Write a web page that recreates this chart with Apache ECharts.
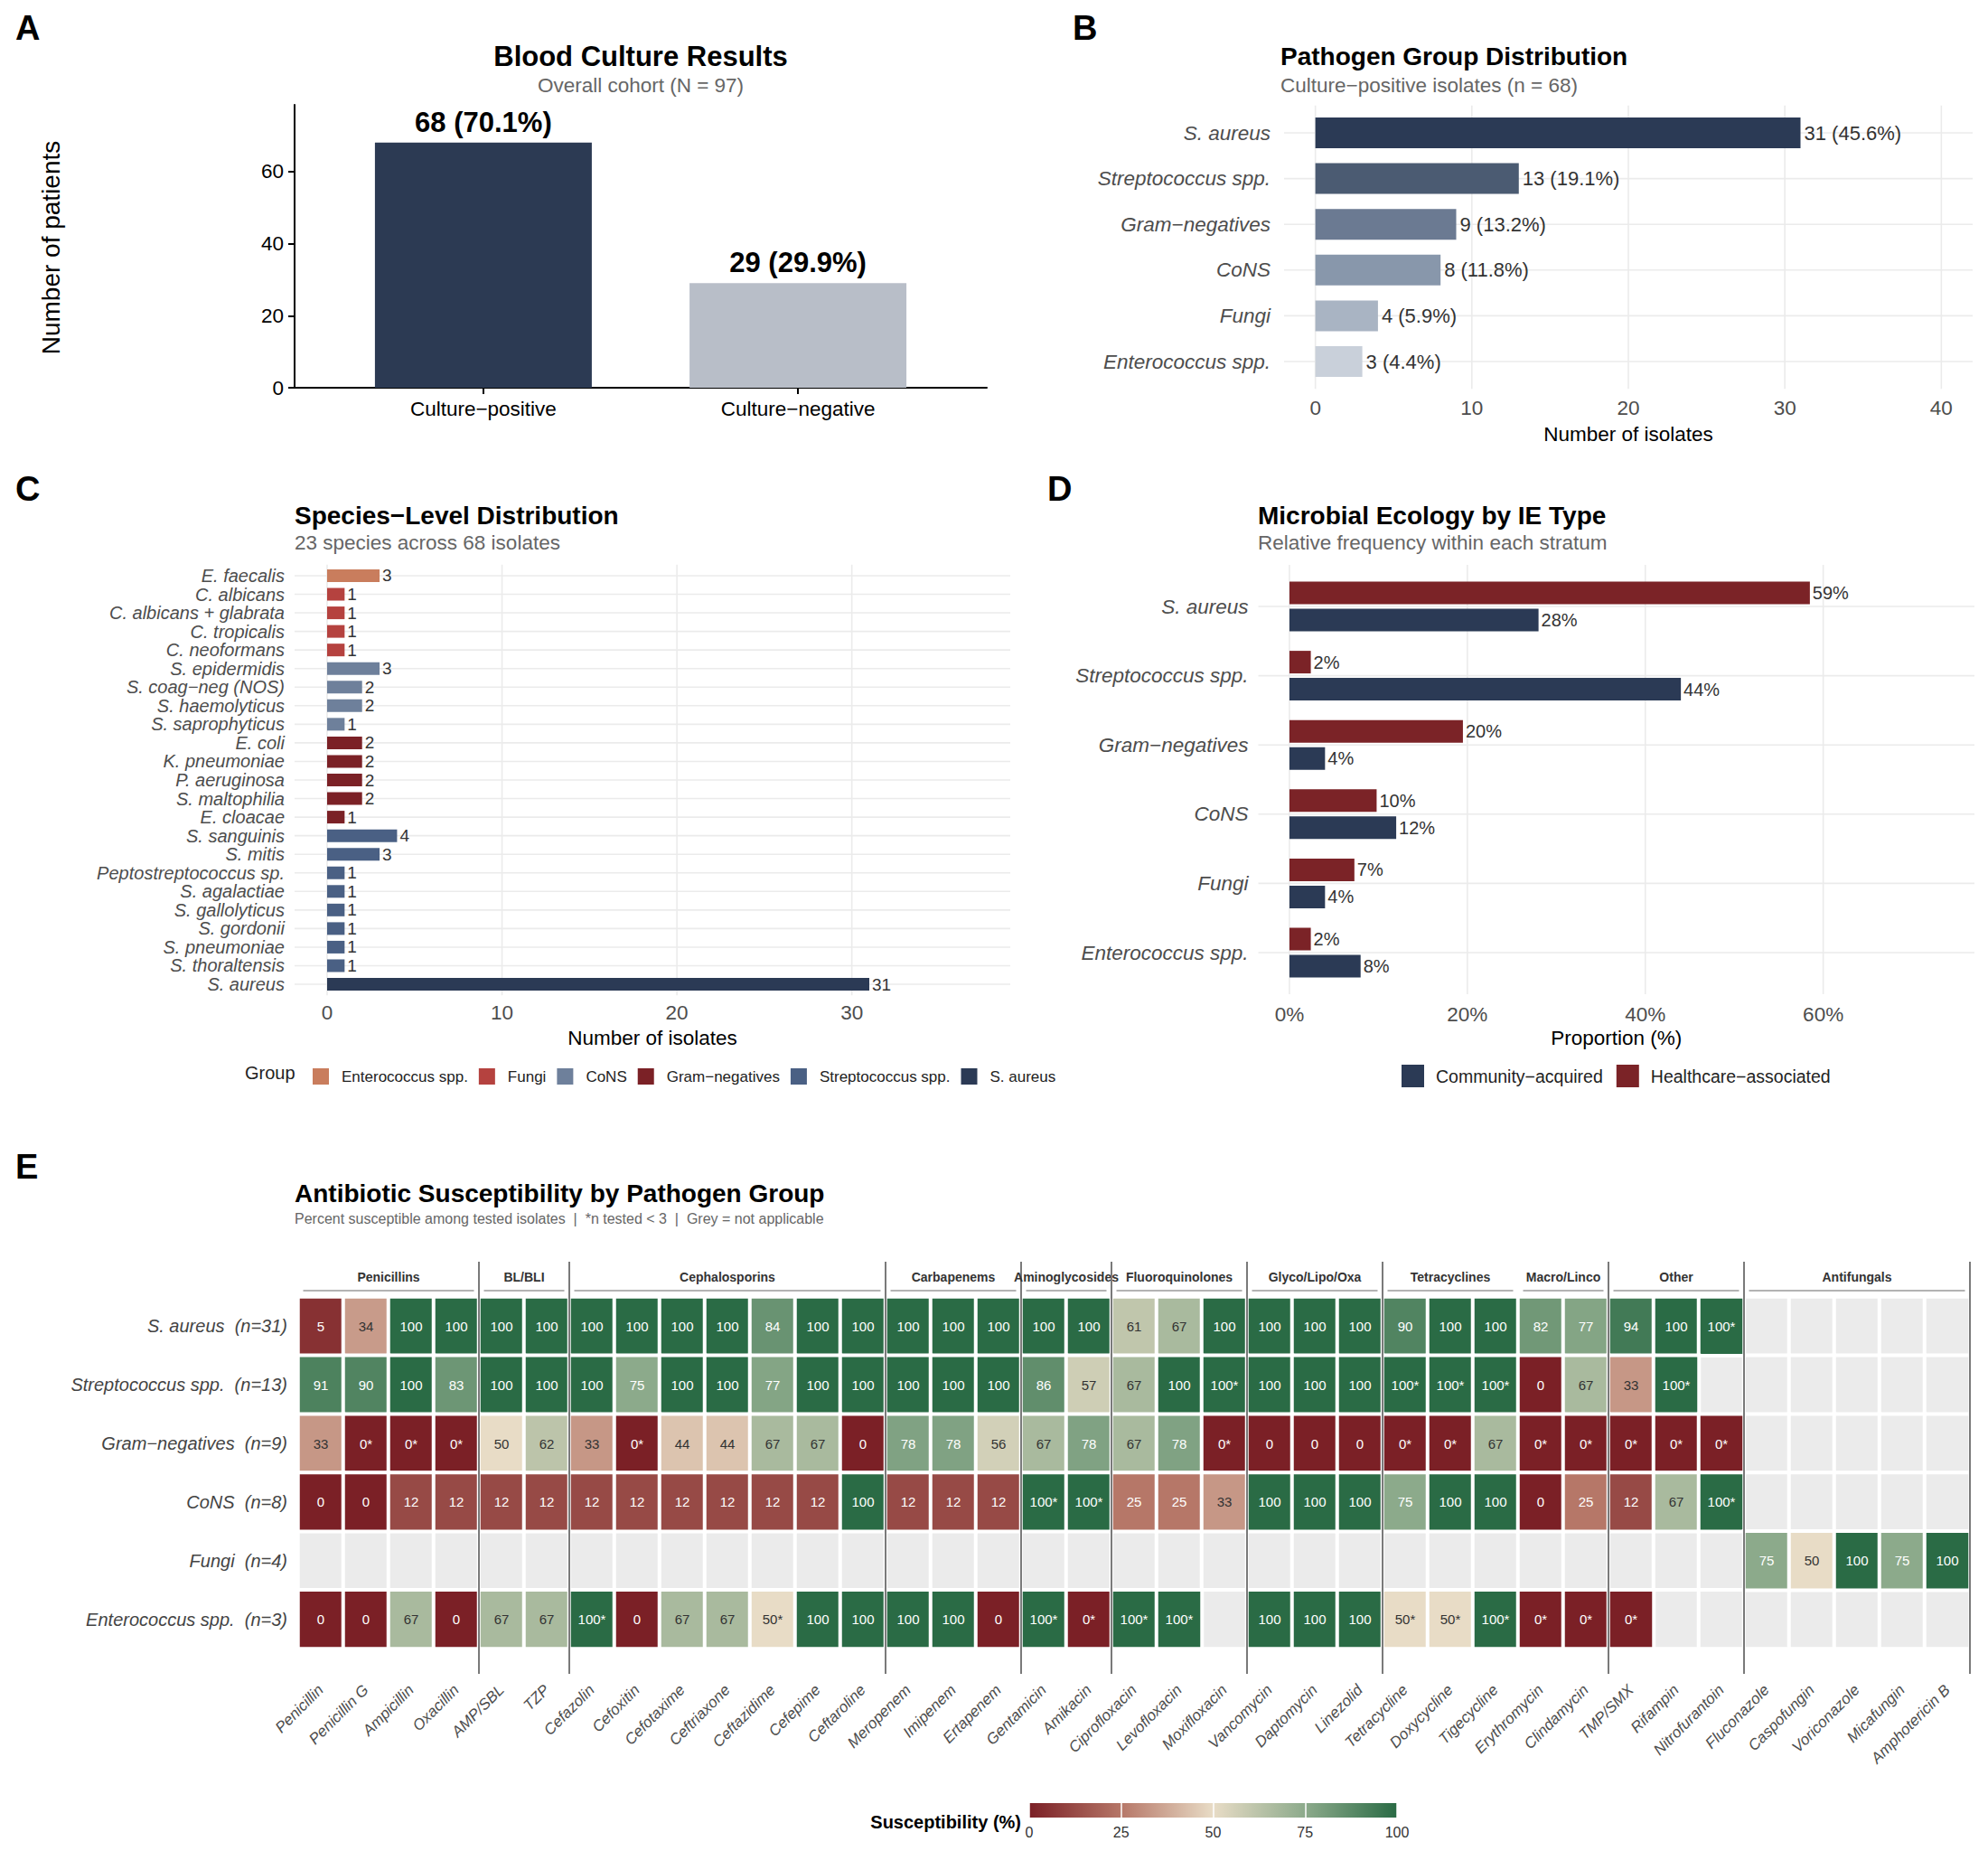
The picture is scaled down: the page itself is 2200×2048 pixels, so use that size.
<!DOCTYPE html>
<html>
<head>
<meta charset="utf-8">
<script src="https://cdn.jsdelivr.net/npm/echarts@6.0.0/dist/echarts.min.js"></script>
<style>
html,body{margin:0;padding:0;background:#ffffff;}
#chart{width:2200px;height:2048px;}
</style>
</head>
<body>
<div id="chart"></div>
<script>
// ================= DATA =================
// Panel A
const cultureCategories = ['Culture−positive', 'Culture−negative'];
const cultureCounts = [68, 29];
const cohortTotal = 97;

// Panel B
const groupNames = ['S. aureus', 'Streptococcus spp.', 'Gram−negatives', 'CoNS', 'Fungi', 'Enterococcus spp.'];
const groupCounts = [31, 13, 9, 8, 4, 3];
const isolateTotal = 68;

// Panel C
const speciesNames = ['E. faecalis', 'C. albicans', 'C. albicans + glabrata', 'C. tropicalis', 'C. neoformans',
  'S. epidermidis', 'S. coag−neg (NOS)', 'S. haemolyticus', 'S. saprophyticus',
  'E. coli', 'K. pneumoniae', 'P. aeruginosa', 'S. maltophilia', 'E. cloacae',
  'S. sanguinis', 'S. mitis', 'Peptostreptococcus sp.', 'S. agalactiae', 'S. gallolyticus', 'S. gordonii',
  'S. pneumoniae', 'S. thoraltensis', 'S. aureus'];
const speciesCounts = [3, 1, 1, 1, 1, 3, 2, 2, 1, 2, 2, 2, 2, 1, 4, 3, 1, 1, 1, 1, 1, 1, 31];
const speciesGroup = ['Enterococcus spp.', 'Fungi', 'Fungi', 'Fungi', 'Fungi',
  'CoNS', 'CoNS', 'CoNS', 'CoNS',
  'Gram−negatives', 'Gram−negatives', 'Gram−negatives', 'Gram−negatives', 'Gram−negatives',
  'Streptococcus spp.', 'Streptococcus spp.', 'Streptococcus spp.', 'Streptococcus spp.', 'Streptococcus spp.',
  'Streptococcus spp.', 'Streptococcus spp.', 'Streptococcus spp.', 'S. aureus'];
const speciesLegendOrder = ['Enterococcus spp.', 'Fungi', 'CoNS', 'Gram−negatives', 'Streptococcus spp.', 'S. aureus'];

// Panel D
const ecologyGroups = ['S. aureus', 'Streptococcus spp.', 'Gram−negatives', 'CoNS', 'Fungi', 'Enterococcus spp.'];
const healthcarePct = [58.5, 2.4, 19.5, 9.8, 7.3, 2.4];
const communityPct = [28, 44, 4, 12, 4, 8];
const ecologyNames = ['Community−acquired', 'Healthcare−associated'];

// Panel E
const antibiotics = ['Penicillin', 'Penicillin G', 'Ampicillin', 'Oxacillin', 'AMP/SBL', 'TZP',
  'Cefazolin', 'Cefoxitin', 'Cefotaxime', 'Ceftriaxone', 'Ceftazidime', 'Cefepime', 'Ceftaroline',
  'Meropenem', 'Imipenem', 'Ertapenem', 'Gentamicin', 'Amikacin',
  'Ciprofloxacin', 'Levofloxacin', 'Moxifloxacin', 'Vancomycin', 'Daptomycin', 'Linezolid',
  'Tetracycline', 'Doxycycline', 'Tigecycline', 'Erythromycin', 'Clindamycin',
  'TMP/SMX', 'Rifampin', 'Nitrofurantoin',
  'Fluconazole', 'Caspofungin', 'Voriconazole', 'Micafungin', 'Amphotericin B'];
const antibioticClasses = ['Penicillins', 'BL/BLI', 'Cephalosporins', 'Carbapenems', 'Aminoglycosides',
  'Fluoroquinolones', 'Glyco/Lipo/Oxa', 'Tetracyclines', 'Macro/Linco', 'Other', 'Antifungals'];
const classSizes = [4, 2, 7, 3, 2, 3, 3, 3, 2, 3, 5];
const classDivider = [1, 1, 1, 1, 1, 1, 1, 0, 1, 1, 1];
const astRowLabels = ['S. aureus  (n=31)', 'Streptococcus spp.  (n=13)', 'Gram−negatives  (n=9)',
  'CoNS  (n=8)', 'Fungi  (n=4)', 'Enterococcus spp.  (n=3)'];
// '*' = n tested < 3 ; null = not applicable
const astSaureus = ['5','34','100','100', '100','100', '100','100','100','100','84','100','100',
  '100','100','100', '100','100', '61','67','100', '100','100','100', '90','100','100', '82','77',
  '94','100','100*', null,null,null,null,null];
const astStrep = ['91','90','100','83', '100','100', '100','75','100','100','77','100','100',
  '100','100','100', '86','57', '67','100','100*', '100','100','100', '100*','100*','100*', '0','67',
  '33','100*',null, null,null,null,null,null];
const astGramNeg = ['33','0*','0*','0*', '50','62', '33','0*','44','44','67','67','0',
  '78','78','56', '67','78', '67','78','0*', '0','0','0', '0*','0*','67', '0*','0*',
  '0*','0*','0*', null,null,null,null,null];
const astCoNS = ['0','0','12','12', '12','12', '12','12','12','12','12','12','100',
  '12','12','12', '100*','100*', '25','25','33', '100','100','100', '75','100','100', '0','25',
  '12','67','100*', null,null,null,null,null];
const astFungi = [null,null,null,null, null,null, null,null,null,null,null,null,null,
  null,null,null, null,null, null,null,null, null,null,null, null,null,null, null,null,
  null,null,null, '75','50','100','75','100'];
const astEntero = ['0','0','67','0', '67','67', '100*','0','67','67','50*','100','100',
  '100','100','0', '100*','0*', '100*','100*',null, '100','100','100', '50*','50*','100*', '0*','0*',
  '0*',null,null, null,null,null,null,null];
const astValues = [astSaureus, astStrep, astGramNeg, astCoNS, astFungi, astEntero];
const colorbarTicks = [0, 25, 50, 75, 100];

// axis tick values
const ticksB = [0, 10, 20, 30, 40];
const ticksC = [0, 10, 20, 30];
const ticksD = [0, 20, 40, 60];
const ticksA = [0, 20, 40, 60];

// ================= STYLE =================
const FONT = '"Liberation Sans", Arial, Helvetica, sans-serif';
const cultureColors = ['#2c3a53', '#b8bec8'];
const groupShades = ['#2b3a55', '#4b5b72', '#6b7a92', '#8897ab', '#a9b4c3', '#c9d0da'];
const speciesPalette = {
  'Enterococcus spp.': '#c97d5d', 'Fungi': '#b5423f', 'CoNS': '#6e809b',
  'Gram−negatives': '#7b2126', 'Streptococcus spp.': '#4a6084', 'S. aureus': '#2b3a55'
};
const ecologyColors = ['#2b3a55', '#7b2327'];
const heatStops = ['#7b2026', '#b67768', '#e8dcc6', '#8caa8b', '#2a6b45'];
const naColor = '#ebebeb';
const gridColor = '#ebebeb';

const G = {
  A: {left: 326, top: 116, width: 766, height: 313},
  B: {left: 1421, top: 121.7, width: 762, height: 303.6},
  C: {left: 326, top: 626.7, width: 792, height: 472.6},
  D: {left: 1392.5, top: 632.7, width: 792.5, height: 459.6},
  E: {left: 330, top: 1435, width: 1850, height: 389},
  K: {left: 1139, top: 1995, width: 407, height: 16}
};

// ================= HELPERS =================
function hLines(xi, yi, cats) {
  return {
    type: 'custom', xAxisIndex: xi, yAxisIndex: yi, silent: true, z: 1, clip: false,
    data: cats.map(c => [0, c]),
    renderItem: (params, api) => {
      const y = api.coord([0, api.value(1)])[1];
      const cs = params.coordSys;
      return {type: 'line', shape: {x1: cs.x, y1: y, x2: cs.x + cs.width, y2: y},
        style: {stroke: gridColor, lineWidth: 1.6}};
    }
  };
}
function vLines(xi, yi, ticks, nCats) {
  return {
    type: 'custom', xAxisIndex: xi, yAxisIndex: yi, silent: true, z: 1, clip: false,
    data: ticks.map(t => [t, 0]),
    renderItem: (params, api) => {
      const x = api.coord([api.value(0), 0])[0];
      const cs = params.coordSys;
      const ext = cs.height / nCats * 0.1;
      return {type: 'line', shape: {x1: x, y1: cs.y - ext, x2: x, y2: cs.y + cs.height + ext},
        style: {stroke: gridColor, lineWidth: 1.6}};
    }
  };
}
function txt(text, x, y, size, o) {
  o = o || {};
  const align = o.align || 'left';
  return {
    type: 'text', x: x, y: y, rotation: o.rotation || 0, silent: true, z: 10,
    style: {
      text: text, fontFamily: FONT, fontSize: size, fontWeight: o.weight || 'normal',
      fill: o.color || '#000', align: align, textAlign: align,
      verticalAlign: 'middle', textVerticalAlign: 'middle'
    }
  };
}

// ================= BUILD =================
const series = [];

// A
series.push({
  type: 'bar', xAxisIndex: 0, yAxisIndex: 0, barWidth: 240, z: 2,
  data: cultureCounts.map((v, i) => ({value: [i + 1, v], itemStyle: {color: cultureColors[i]}})),
  label: {show: true, position: 'top', distance: 7, fontSize: 31, fontWeight: 'bold', color: '#000',
    fontFamily: FONT,
    formatter: p => p.value[1] + ' (' + (p.value[1] / cohortTotal * 100).toFixed(1) + '%)'}
});

// B
series.push(hLines(1, 1, groupNames));
series.push(vLines(1, 1, ticksB, groupNames.length));
series.push({
  type: 'bar', xAxisIndex: 1, yAxisIndex: 1, barWidth: 34, z: 2,
  data: groupCounts.map((v, i) => ({value: v, itemStyle: {color: groupShades[i]}})),
  label: {show: true, position: 'right', distance: 4, fontSize: 22, color: '#333', fontFamily: FONT,
    formatter: p => p.value + ' (' + (p.value / isolateTotal * 100).toFixed(1) + '%)'}
});

// C
series.push(hLines(2, 2, speciesNames));
series.push(vLines(2, 2, ticksC, speciesNames.length));
speciesLegendOrder.forEach(g => {
  series.push({
    type: 'bar', name: g, xAxisIndex: 2, yAxisIndex: 2, stack: 'species', barWidth: 14, z: 2,
    itemStyle: {color: speciesPalette[g]},
    data: speciesCounts.map((v, i) => speciesGroup[i] === g ? v : '-'),
    label: {show: true, position: 'right', distance: 3, fontSize: 19, color: '#333', fontFamily: FONT}
  });
});

// D
series.push(hLines(3, 3, ecologyGroups));
series.push(vLines(3, 3, ticksD, ecologyGroups.length));
[healthcarePct, communityPct].forEach((arr, k) => {
  const idx = k === 0 ? 1 : 0;
  series.push({
    type: 'bar', name: ecologyNames[idx], xAxisIndex: 3, yAxisIndex: 3, barWidth: 25, barGap: '20%', z: 2,
    itemStyle: {color: ecologyColors[idx]},
    data: arr,
    label: {show: true, position: 'right', distance: 3, fontSize: 20, color: '#333', fontFamily: FONT,
      formatter: p => Math.round(p.value) + '%'}
  });
});

// E heatmap
const heatData = [], naData = [];
astValues.forEach((row, r) => row.forEach((cell, c) => {
  if (cell === null) { naData.push([c, r, 0]); return; }
  const v = parseFloat(cell);
  heatData.push({value: [c, r, v], label: {color: (v >= 30 && v <= 70) ? '#333333' : '#ffffff'}});
}));
const naSeriesIndex = series.length;
series.push({
  type: 'heatmap', xAxisIndex: 4, yAxisIndex: 4, data: naData, z: 2,
  itemStyle: {borderColor: '#ffffff', borderWidth: 4},
  label: {show: false}, emphasis: {disabled: true}
});
const heatSeriesIndex = series.length;
series.push({
  type: 'heatmap', xAxisIndex: 4, yAxisIndex: 4, data: heatData, z: 2,
  itemStyle: {borderColor: '#ffffff', borderWidth: 4},
  label: {show: true, fontSize: 15, fontFamily: FONT,
    formatter: p => astValues[p.value[1]][p.value[0]]},
  emphasis: {disabled: true}
});
// class headers, underlines and dividers
let cursor = 0;
const classSpans = classSizes.map((n, i) => { const s = cursor; cursor += n; return [s, cursor, i]; });
series.push({
  type: 'custom', xAxisIndex: 5, yAxisIndex: 5, silent: true, clip: false, z: 6,
  data: classSpans,
  renderItem: (params, api) => {
    const s = api.value(0), e = api.value(1), k = api.value(2);
    const x0 = api.coord([s, 0])[0], x1 = api.coord([e, 0])[0];
    const cs = params.coordSys;
    const children = [
      {type: 'text', x: (x0 + x1) / 2, y: cs.y - 22,
        style: {text: antibioticClasses[k], fontSize: 14, fontWeight: 'bold', fontFamily: FONT, fill: '#333',
          align: 'center', verticalAlign: 'middle', textAlign: 'center', textVerticalAlign: 'middle'}},
      {type: 'line', shape: {x1: x0 + 5.5, y1: cs.y - 7, x2: x1 - 5.5, y2: cs.y - 7},
        style: {stroke: '#9a9a9a', lineWidth: 1.6}}
    ];
    if (classDivider[k]) {
      children.push({type: 'line', shape: {x1: x1, y1: cs.y - 39, x2: x1, y2: cs.y + cs.height + 28},
        style: {stroke: '#7a7a7a', lineWidth: 2}});
    }
    return {type: 'group', children: children};
  }
});

const option = {
  animation: false,
  backgroundColor: '#ffffff',
  textStyle: {fontFamily: FONT},
  grid: [G.A, G.B, G.C, G.D, G.E, G.K].map(g => Object.assign({containLabel: false}, g)),
  xAxis: [
    // A
    {gridIndex: 0, type: 'value', min: 0.4, max: 2.6,
      axisLine: {show: true, onZero: false, lineStyle: {color: '#000', width: 2}},
      axisTick: {show: true, customValues: [1, 2], length: 7, lineStyle: {color: '#000', width: 2}},
      axisLabel: {customValues: [1, 2], formatter: v => cultureCategories[Math.round(v) - 1],
        fontSize: 22.5, color: '#000', margin: 12},
      splitLine: {show: false}},
    // B
    {gridIndex: 1, type: 'value', min: -2, max: 42, axisLine: {show: false}, axisTick: {show: false},
      splitLine: {show: false},
      axisLabel: {customValues: ticksB, fontSize: 22.5, color: '#4d4d4d', margin: 15}},
    // C
    {gridIndex: 2, type: 'value', min: -1.86, max: 39.06, axisLine: {show: false}, axisTick: {show: false},
      splitLine: {show: false},
      axisLabel: {customValues: ticksC, fontSize: 22.5, color: '#4d4d4d', margin: 10}},
    // D
    {gridIndex: 3, type: 'value', min: -3.5, max: 77, axisLine: {show: false}, axisTick: {show: false},
      splitLine: {show: false},
      axisLabel: {customValues: ticksD, formatter: '{value}%', fontSize: 22.5, color: '#4d4d4d', margin: 19}},
    // E heatmap
    {gridIndex: 4, type: 'category', data: antibiotics, axisLine: {show: false}, axisTick: {show: false},
      splitLine: {show: false}, splitArea: {show: false},
      axisLabel: {interval: 0, rotate: 45, fontSize: 17, fontStyle: 'italic', color: '#4d4d4d', margin: 43}},
    // E hidden value axis for headers
    {gridIndex: 4, type: 'value', min: 0, max: antibiotics.length, show: false},
    // colorbar
    {gridIndex: 5, type: 'value', min: 0, max: 100, interval: 25, z: 20,
      axisLine: {show: false}, axisTick: {show: false},
      splitLine: {show: true, lineStyle: {color: '#ffffff', width: 1.5}},
      axisLabel: {fontSize: 16, color: '#333', margin: 8}}
  ],
  yAxis: [
    {gridIndex: 0, type: 'value', min: 0, max: 78.5,
      axisLine: {show: true, lineStyle: {color: '#000', width: 2}},
      axisTick: {show: true, customValues: ticksA, length: 7, lineStyle: {color: '#000', width: 2}},
      axisLabel: {customValues: ticksA, fontSize: 22.5, color: '#000', margin: 12},
      splitLine: {show: false}},
    {gridIndex: 1, type: 'category', inverse: true, data: groupNames,
      axisLine: {show: false}, axisTick: {show: false}, splitLine: {show: false},
      axisLabel: {fontSize: 22.5, fontStyle: 'italic', color: '#4d4d4d', margin: 15}},
    {gridIndex: 2, type: 'category', inverse: true, data: speciesNames,
      axisLine: {show: false}, axisTick: {show: false}, splitLine: {show: false},
      axisLabel: {interval: 0, fontSize: 20, fontStyle: 'italic', color: '#4d4d4d', margin: 11}},
    {gridIndex: 3, type: 'category', inverse: true, data: ecologyGroups,
      axisLine: {show: false}, axisTick: {show: false}, splitLine: {show: false},
      axisLabel: {fontSize: 22.5, fontStyle: 'italic', color: '#4d4d4d', margin: 11}},
    {gridIndex: 4, type: 'category', inverse: true, data: astRowLabels,
      axisLine: {show: false}, axisTick: {show: false}, splitLine: {show: false}, splitArea: {show: false},
      axisLabel: {interval: 0, fontSize: 20, fontStyle: 'italic', color: '#444', margin: 12}},
    {gridIndex: 4, type: 'value', min: 0, max: 1, show: false},
    {gridIndex: 5, type: 'value', min: 0, max: 1, show: false}
  ],
  visualMap: [
    {type: 'continuous', show: false, seriesIndex: heatSeriesIndex, dimension: 2, min: 0, max: 100,
      inRange: {color: heatStops}},
    {type: 'piecewise', show: false, seriesIndex: naSeriesIndex, dimension: 2,
      pieces: [{value: 0, color: naColor}]}
  ],
  legend: [
    {data: speciesLegendOrder, left: 341, top: 1177, orient: 'horizontal', icon: 'rect',
      itemWidth: 18, itemHeight: 18, itemGap: 12, selectedMode: false,
      textStyle: {fontSize: 17, color: '#222', fontFamily: FONT, padding: [0, 0, 0, 9]}},
    {data: ecologyNames, left: 1546, top: 1173, orient: 'horizontal', icon: 'rect',
      itemWidth: 25, itemHeight: 25, itemGap: 15, selectedMode: false,
      textStyle: {fontSize: 19.5, color: '#222', fontFamily: FONT, padding: [0, 0, 0, 8]}}
  ],
  graphic: [
    // panel tags
    txt('A', 17, 31, 38, {weight: 'bold'}),
    txt('B', 1187, 31, 38, {weight: 'bold'}),
    txt('C', 17, 541, 38, {weight: 'bold'}),
    txt('D', 1159, 541, 38, {weight: 'bold'}),
    txt('E', 17, 1291, 38, {weight: 'bold'}),
    // titles
    txt('Blood Culture Results', G.A.left + G.A.width / 2, 62, 31, {weight: 'bold', align: 'center'}),
    txt('Overall cohort (N = 97)', G.A.left + G.A.width / 2, 94, 22.5, {color: '#666', align: 'center'}),
    txt('Pathogen Group Distribution', 1417, 62, 28, {weight: 'bold'}),
    txt('Culture−positive isolates (n = 68)', 1417, 94, 22.5, {color: '#666'}),
    txt('Species−Level Distribution', 326, 570, 28, {weight: 'bold'}),
    txt('23 species across 68 isolates', 326, 600, 22.5, {color: '#666'}),
    txt('Microbial Ecology by IE Type', 1392, 570, 28, {weight: 'bold'}),
    txt('Relative frequency within each stratum', 1392, 600, 22.5, {color: '#666'}),
    txt('Antibiotic Susceptibility by Pathogen Group', 326, 1320, 28, {weight: 'bold'}),
    txt('Percent susceptible among tested isolates  |  *n tested < 3  |  Grey = not applicable', 326, 1348, 16, {color: '#666'}),
    // axis titles
    txt('Number of patients', 56, 274, 28, {align: 'center', rotation: Math.PI / 2}),
    txt('Number of isolates', G.B.left + G.B.width / 2, 480, 22.5, {align: 'center'}),
    txt('Number of isolates', G.C.left + G.C.width / 2, 1148, 22.5, {align: 'center'}),
    txt('Proportion (%)', G.D.left + G.D.width / 2, 1148, 22.5, {align: 'center'}),
    // legend titles
    txt('Group', 271, 1187, 20, {color: '#222'}),
    txt('Susceptibility (%)', 1130, 2016, 20, {weight: 'bold', align: 'right'}),
    // colorbar ramp (same stops as the visualMap)
    {type: 'rect', silent: true, z: 0,
      shape: {x: G.K.left, y: G.K.top, width: G.K.width, height: G.K.height},
      style: {fill: new echarts.graphic.LinearGradient(0, 0, 1, 0,
        heatStops.map((c, i) => ({offset: i / (heatStops.length - 1), color: c})))}}
  ],
  series: series
};

const chart = echarts.init(document.getElementById('chart'), null, {renderer: 'svg', width: 2200, height: 2048});
chart.setOption(option);
</script>
</body>
</html>
